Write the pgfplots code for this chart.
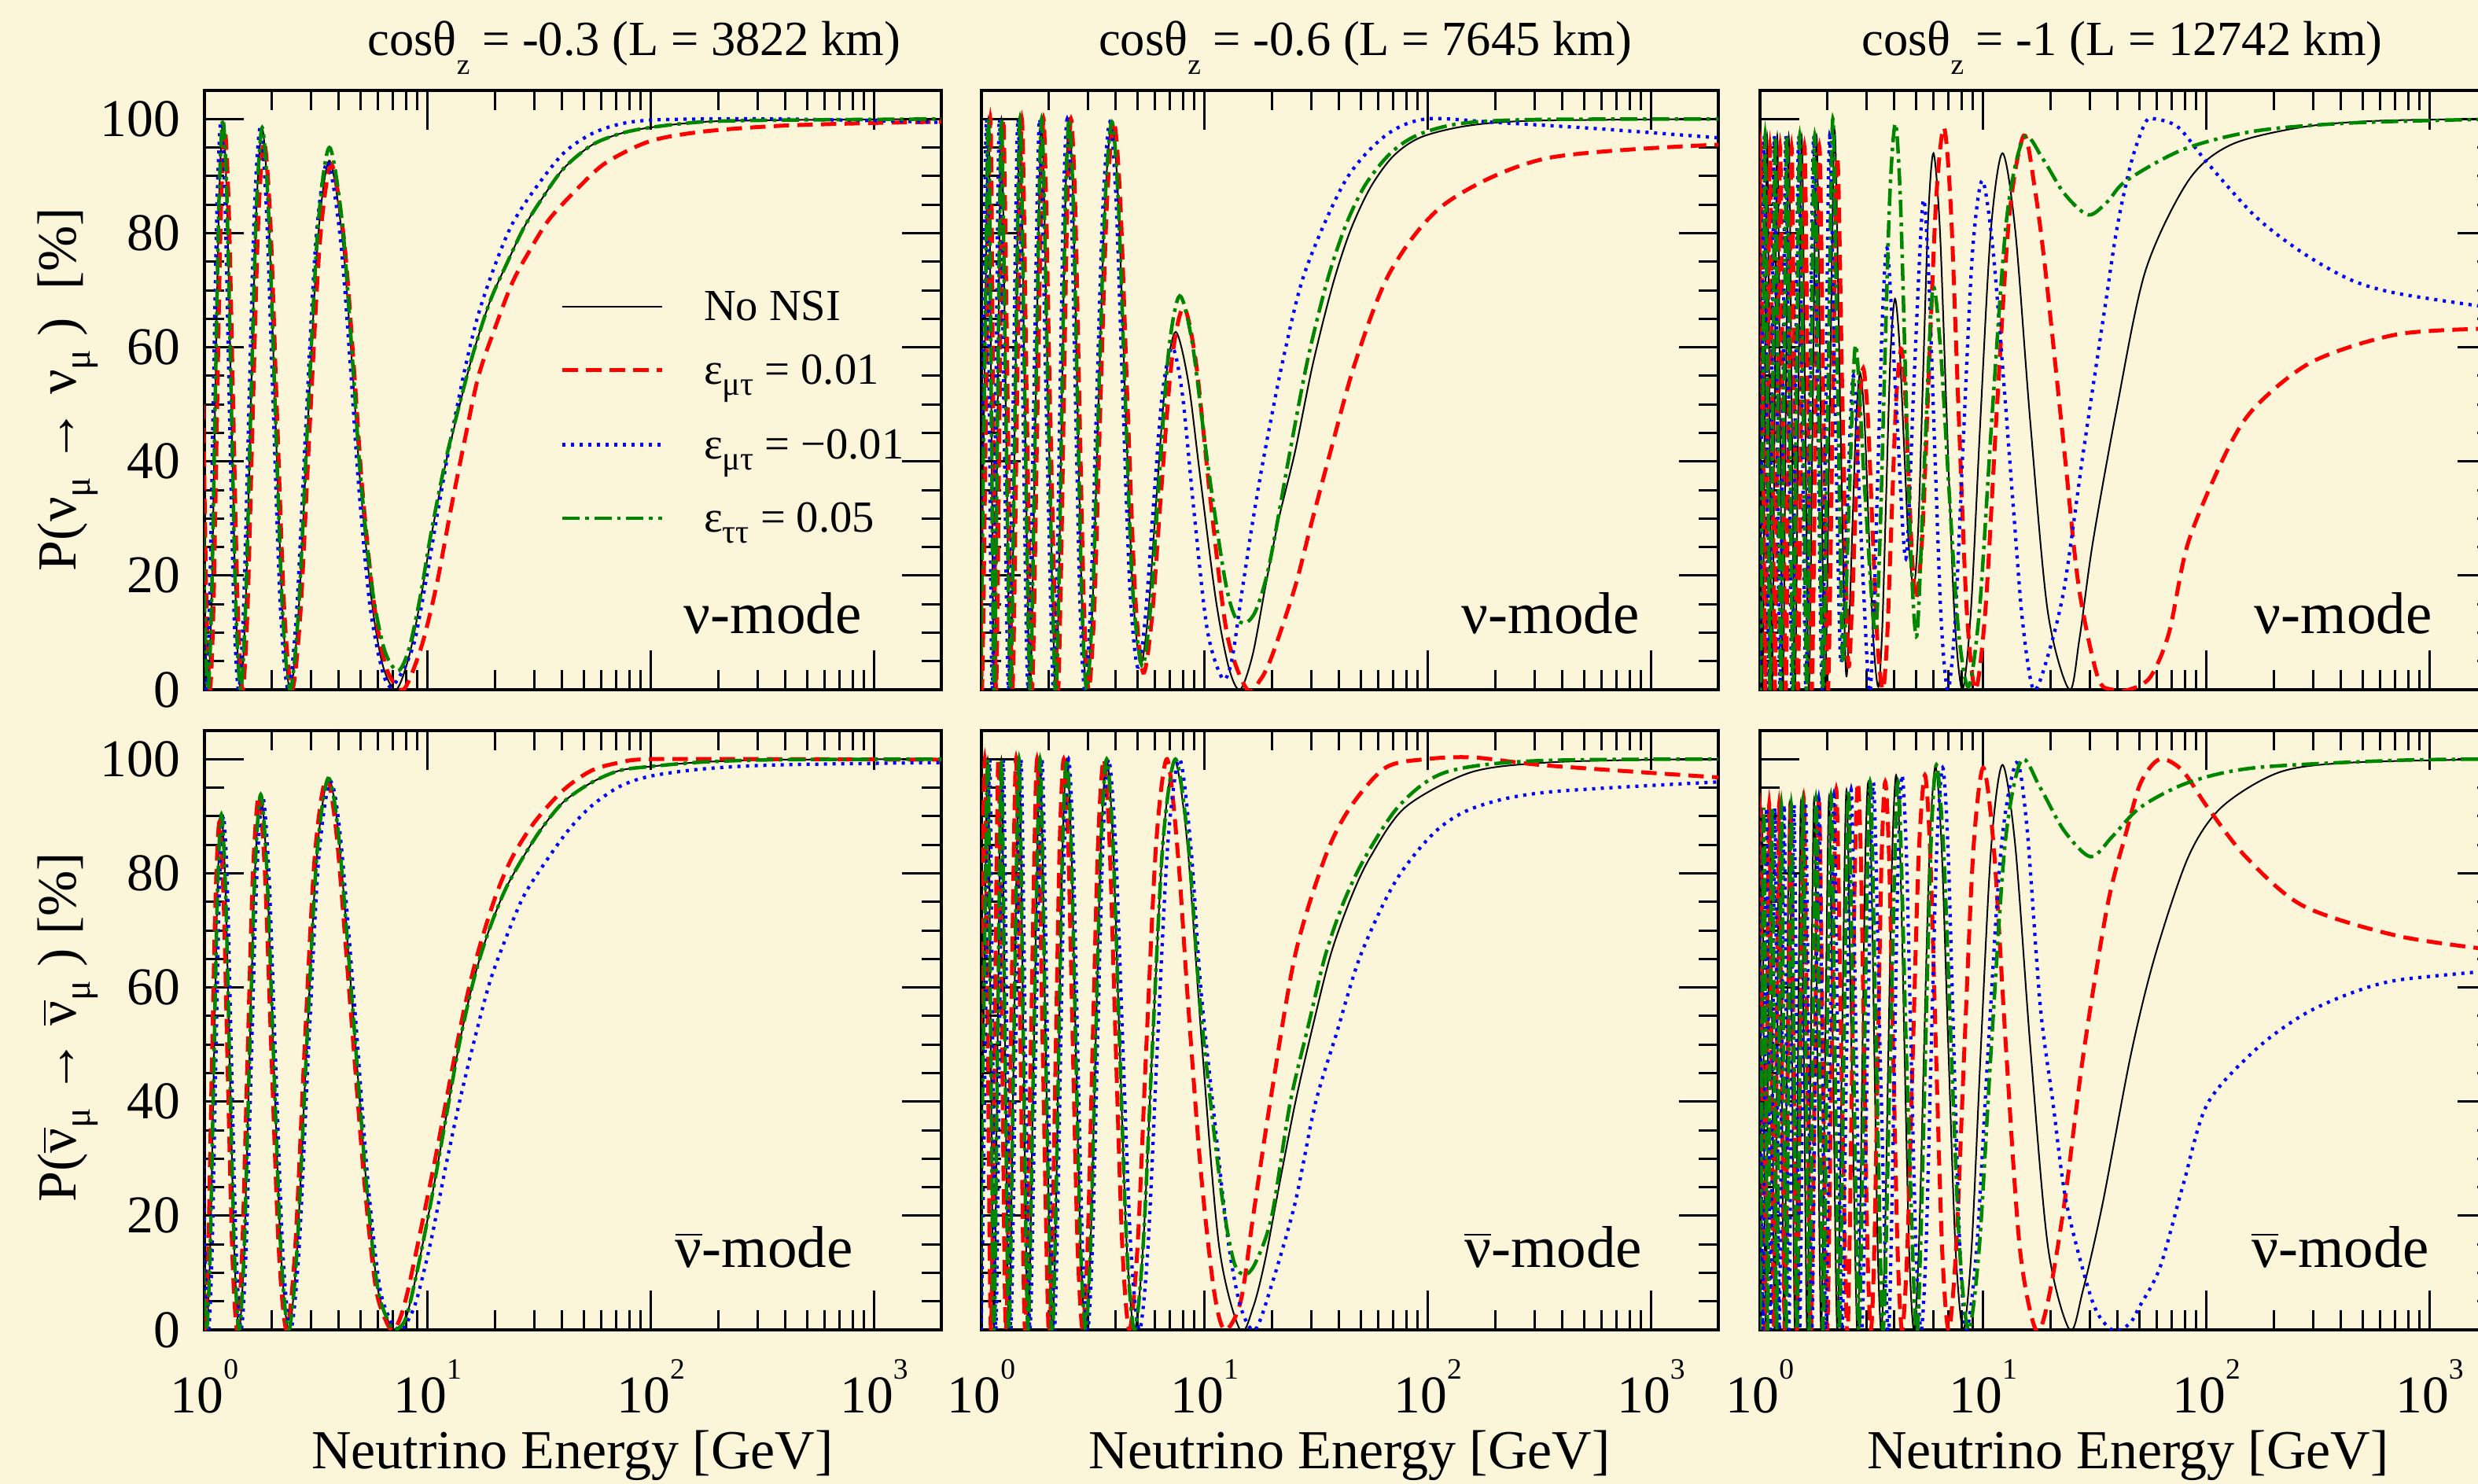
\documentclass[border=0pt]{standalone}
\usepackage{fontspec}
\setmainfont{Liberation Serif}
\usepackage{pgfplots}
\pgfplotsset{compat=1.18}

\definecolor{paper}{RGB}{251,245,218}
\definecolor{nsired}{RGB}{255,0,0}
\definecolor{nsiblue}{RGB}{0,0,255}
\definecolor{nsigreen}{RGB}{0,135,0}

% lowered subscripts, as in the original figure
\newcommand{\tsub}[1]{\raisebox{-5pt}{\fontsize{7.5}{8}\selectfont #1}}
\newcommand{\lsub}[1]{\raisebox{-2.8pt}{\fontsize{8.5}{9}\selectfont #1}}
\newcommand{\ysub}[1]{\raisebox{-3.6pt}{\fontsize{9.5}{10}\selectfont #1}}
\newcommand{\nub}{\ensuremath{\overline{\mbox{ν}}}}
\newcommand{\dec}[1]{10\raisebox{8.6pt}{\fontsize{7.5}{8}\selectfont #1}}

\tikzset{
  lnonsi/.style={black, line width=0.4pt},
  lmutp/.style={nsired, line width=1pt, dash pattern=on 3.9pt off 2.1pt},
  lmutm/.style={nsiblue, line width=0.85pt, dash pattern=on 0.8pt off 1.4pt},
  ltautau/.style={nsigreen, line width=0.9pt, dash pattern=on 4.4pt off 1.4pt on 0.9pt off 1.4pt},
}

\begin{document}
\begin{tikzpicture}
\fill[paper] (0pt,0pt) rectangle (630.2pt,-377.4pt);

% ---------------- top left: cos = -0.3, neutrinos
\begin{axis}[at={(52pt,-175.4pt)}, anchor=south west,
  scale only axis, width=187.4pt, height=152.4pt,
  xmode=log, xmin=1, xmax=2000, ymin=0, ymax=105,
  axis line style={line width=0.7pt}, tick style={black, line width=0.6pt},
  major tick length=10pt, minor tick length=5pt,
  xtick={1,10,100,1000},
  minor xtick={2,3,4,5,6,7,8,9,20,30,40,50,60,70,80,90,200,300,400,500,600,700,800,900},
  ytick={0,20,40,60,80,100},
  minor ytick={5,10,15,25,30,35,45,50,55,65,70,75,85,90,95},
  tick label style={font=\fontsize{13.5}{14}\selectfont},
  xticklabel style={inner sep=0pt, anchor=north, yshift=-7.4pt},
  yticklabel style={inner sep=0pt, anchor=east, xshift=-6pt},
  xticklabels={}, yticklabels={0,20,40,60,80,100}]
\addplot[lnonsi, smooth] coordinates {(0.968,50)(1.001,14.6)(1.037,0)(1.075,14.6)(1.1165,49.8)(1.161,84.9)(1.210,99.5)(1.262,84.9)(1.3195,49.8)(1.382,14.6)(1.4515,0)(1.528,14.4)(1.613,49.2)(1.708,83.9)(1.814,98.3)(1.935,83.9)(2.074,49.2)(2.233,14.4)(2.419,0)(2.639,13.6)(2.903,46.4)(3.226,79.1)(3.629,92.7)(4.147,79.1)(4.6,56.3)(5.0,35.7)(5.63,15.2)(6.3,4.2)(7.21,0)(8.22,5.6)(9.23,15.2)(10.36,26.8)(11.97,39.2)(13.84,49.5)(16.0,59)(19.0,68)(22.7,74.8)(27.0,81)(32.2,85.8)(40.6,91.3)(54.2,95.4)(72.4,97.4)(99,98.5)(172,99.5)(376,99.8)(2000,100)};
\addplot[lmutp, smooth] coordinates {(0.987,50)(1.021,14.6)(1.058,0)(1.097,14.3)(1.139,49)(1.184,83.5)(1.234,98)(1.287,83.5)(1.346,49)(1.410,14.2)(1.481,0)(1.559,14)(1.645,48)(1.742,82)(1.850,96)(1.974,82)(2.115,48)(2.278,14)(2.467,0)(2.692,13.5)(2.961,46)(3.291,78.5)(3.702,92)(4.230,78.5)(4.7,55)(5.1,35)(5.75,15)(6.5,4)(7.53,0)(8.22,1.5)(9.5,8.3)(11.0,18.6)(12.7,31.6)(14.7,44)(16.9,55)(20.2,63.8)(24.0,71.4)(28.6,76.9)(35.0,82.4)(46.9,87.8)(62.7,92.3)(98.9,96.1)(172,97.8)(376,98.8)(1000,99.3)(2000,99.5)};
\addplot[lmutm, smooth] coordinates {(0.948,50)(0.981,14.6)(1.016,0)(1.054,14.6)(1.094,49.8)(1.138,84.9)(1.185,99.5)(1.237,84.9)(1.293,49.8)(1.354,14.4)(1.422,0)(1.497,14.4)(1.581,49.2)(1.674,84)(1.778,98.5)(1.896,84)(2.033,49.2)(2.188,14.4)(2.371,0)(2.586,13.5)(2.845,46.2)(3.161,79)(3.556,92.5)(4.064,79)(4.5,57)(4.9,36)(5.5,15)(6.2,4)(6.8,0.5)(7.7,3.2)(8.71,8.3)(9.78,18.6)(11.0,30.3)(12.7,44)(14.7,56.3)(16.9,65.9)(20.2,74.8)(24.0,81.7)(30.3,87.8)(40.6,94)(54.2,97.4)(72.4,99.1)(99,99.8)(172,100)(376,100)(1000,99.7)(2000,99.4)};
\addplot[ltautau, smooth] coordinates {(0.968,50)(1.001,14.6)(1.037,0)(1.075,14.6)(1.1165,50)(1.161,85.4)(1.210,100)(1.262,85.4)(1.3195,50)(1.382,14.6)(1.4515,0)(1.528,14.4)(1.613,49.3)(1.708,84.1)(1.814,98.5)(1.935,84.1)(2.074,49.3)(2.233,14.4)(2.419,0)(2.639,13.9)(2.903,47.5)(3.226,81.1)(3.629,95)(4.147,81.6)(4.6,58)(5.0,37.5)(5.63,18)(6.4,7)(7.35,3.3)(8.22,7)(9.23,16)(10.36,27.5)(11.97,39.8)(13.84,49.8)(16.0,59)(19.0,68)(22.7,74.8)(27.0,81)(32.2,85.8)(40.6,91.3)(54.2,95.4)(72.4,97.4)(99,98.5)(172,99.5)(376,99.8)(2000,100)};
\end{axis}

% ---------------- top middle: cos = -0.6, neutrinos
\begin{axis}[at={(249.6pt,-175.4pt)}, anchor=south west,
  scale only axis, width=187.4pt, height=152.4pt,
  xmode=log, xmin=1, xmax=2000, ymin=0, ymax=105,
  axis line style={line width=0.7pt}, tick style={black, line width=0.6pt},
  major tick length=10pt, minor tick length=5pt,
  xtick={1,10,100,1000},
  minor xtick={2,3,4,5,6,7,8,9,20,30,40,50,60,70,80,90,200,300,400,500,600,700,800,900},
  ytick={0,20,40,60,80,100},
  minor ytick={5,10,15,25,30,35,45,50,55,65,70,75,85,90,95},
  xticklabels={}, yticklabels={}]
\addplot[lnonsi, smooth] coordinates {(0.945,100)(0.964,50)(0.985,0)(1.028,50)(1.075,100)(1.1066,50)(1.14,0)(1.1824,50)(1.228,100)(1.2857,50)(1.349,0)(1.4151,50)(1.488,100)(1.5653,50)(1.651,0)(1.7493,50)(1.86,100)(1.9895,50)(2.138,0)(2.2124,14.6)(2.292,50)(2.3776,85.4)(2.47,100)(2.5767,85.4)(2.694,50)(2.8224,14.6)(2.963,0)(3.1427,14.6)(3.345,50)(3.5753,85)(3.84,99.5)(4.101,85.6)(4.3995,52)(4.745,18.4)(5.15,4.5)(5.576,13)(6.079,33.6)(6.682,54.2)(7.42,62.7)(8.442,54)(9.5,38)(11.2,16)(12.8,4)(14.4,0)(16.4,6.1)(18.7,18)(21.5,30)(25.4,41.7)(30.5,57)(37.5,71)(45,80.5)(55.3,88)(70,93.5)(93,96.8)(150,98.8)(300,99.7)(2000,100)};
\addplot[lmutp, smooth] coordinates {(0.964,100)(0.983,50)(1.0047,0)(1.0486,50)(1.0965,100)(1.1287,50)(1.1628,0)(1.2060,50)(1.2526,100)(1.3114,50)(1.376,0)(1.4434,50)(1.5178,100)(1.5966,50)(1.684,0)(1.7843,50)(1.8972,100)(2.0293,50)(2.1808,0)(2.2566,14.6)(2.3378,50)(2.4252,85.4)(2.5194,100)(2.6282,85.4)(2.7479,50)(2.8788,14.6)(3.0223,0)(3.2056,14.6)(3.4119,50)(3.6468,85)(3.917,99.5)(4.19,85.5)(4.505,51)(4.871,17.4)(5.3,3)(5.795,12.3)(6.392,35)(7.125,57.7)(8.05,67)(9.151,57.2)(10.6,33.5)(12.59,9.8)(15.5,0)(17.8,1.8)(20.1,6.1)(25.4,18)(30,29)(36.6,41.7)(47.4,57.5)(68,73.3)(120,85.2)(339,93.1)(2000,95.5)};
\addplot[lmutm, smooth] coordinates {(0.926,100)(0.945,50)(0.9653,0)(1.0074,50)(1.0535,100)(1.0845,50)(1.1172,0)(1.1588,50)(1.2034,100)(1.26,50)(1.322,0)(1.3868,50)(1.4582,100)(1.534,50)(1.618,0)(1.7143,50)(1.8228,100)(1.9497,50)(2.0952,0)(2.1682,14.6)(2.2462,50)(2.33,85.4)(2.4206,100)(2.5252,85.4)(2.6401,50)(2.766,14.6)(2.9037,0)(3.0798,14.6)(3.2781,50)(3.5038,85)(3.7632,99.5)(4.011,85.6)(4.295,51.7)(4.621,18)(5.0,4)(5.408,12.2)(5.888,32)(6.46,51.8)(7.16,60)(7.962,51.5)(8.969,31)(10.27,10.5)(12.0,2)(13.2,5)(14.8,18)(16.5,30)(18.6,41.7)(22.5,58)(28.2,73.3)(42.7,89.2)(64.6,97.1)(98,100)(200,99.4)(575,98.3)(2000,96.7)};
\addplot[ltautau, smooth] coordinates {(0.945,100)(0.964,50)(0.985,0)(1.028,50)(1.075,100)(1.1066,50)(1.14,0)(1.1824,50)(1.228,100)(1.2857,50)(1.349,0)(1.4151,50)(1.488,100)(1.5653,50)(1.651,0)(1.7493,50)(1.86,100)(1.9895,50)(2.138,0)(2.2124,14.6)(2.292,50)(2.3776,85.4)(2.47,100)(2.5767,85.4)(2.694,50)(2.8224,14.6)(2.963,0)(3.1427,14.6)(3.345,50)(3.5753,85)(3.84,99.5)(4.101,85.6)(4.3995,52)(4.745,18.4)(5.24,4.2)(5.7,13.7)(6.246,36.6)(6.908,59.5)(7.73,69)(8.811,60.6)(10.25,40.4)(12.24,20)(13.6,13)(15.2,11.7)(17,14)(19.5,22)(24.1,41.7)(29,58)(35.6,72)(43,81.5)(52.5,88.5)(68,94)(90,97.2)(140,99.2)(300,99.9)(2000,100)};
\end{axis}

% ---------------- top right: cos = -1, neutrinos
\begin{axis}[at={(447.6pt,-175.4pt)}, anchor=south west,
  scale only axis, width=187.4pt, height=152.4pt,
  xmode=log, xmin=1, xmax=2000, ymin=0, ymax=105,
  axis line style={line width=0.7pt}, tick style={black, line width=0.6pt},
  major tick length=10pt, minor tick length=5pt,
  xtick={1,10,100,1000},
  minor xtick={2,3,4,5,6,7,8,9,20,30,40,50,60,70,80,90,200,300,400,500,600,700,800,900},
  ytick={0,20,40,60,80,100},
  minor ytick={5,10,15,25,30,35,45,50,55,65,70,75,85,90,95},
  xticklabels={}, yticklabels={}]
\addplot[lnonsi, smooth] coordinates {(0.9356,0)(0.9563,48.5)(0.978,97)(1.001,48.5)(1.025,0)(1.0499,48.5)(1.076,97)(1.1033,48.5)(1.132,0)(1.1627,48.5)(1.195,97)(1.2295,48.5)(1.266,0)(1.3043,48.5)(1.345,97)(1.388,48.5)(1.434,0)(1.4837,48.5)(1.537,97)(1.5939,48.5)(1.655,0)(1.7213,48.5)(1.793,97)(1.8711,48.5)(1.956,0)(2.053,49)(2.16,98)(2.2826,51)(2.42,4)(2.507,11.5)(2.6005,29.8)(2.701,48)(2.81,55.5)(2.9355,47.5)(3.0727,28)(3.2227,8.5)(3.39,0.5)(3.527,10.4)(3.678,34.5)(3.841,58.6)(4.02,68.5)(4.207,61.1)(4.412,43.3)(4.638,25.4)(4.89,18)(5.126,29.1)(5.385,56)(5.672,82.9)(5.99,94)(6.402,80.3)(6.873,47)(7.418,13.7)(8.06,0)(8.803,13.7)(9.704,47)(10.81,80.3)(12.2,94)(13.93,80.3)(16.24,47)(19.46,13.7)(24.3,0)(27,9)(31,25.9)(39.8,49.6)(53.3,73.4)(83,89.2)(129,95.5)(271,98.6)(600,99.7)(2000,100)};
\addplot[lmutp, smooth] coordinates {(0.943,47.5)(0.9637,0)(0.985,47.5)(1.0073,95)(1.031,47.5)(1.0558,0)(1.0814,47.5)(1.1083,95)(1.1364,47.5)(1.166,0)(1.1976,47.5)(1.2309,95)(1.2664,47.5)(1.304,0)(1.3434,47.5)(1.3854,95)(1.4296,47.5)(1.477,0)(1.5282,47.5)(1.5831,95)(1.6417,47.5)(1.7047,0)(1.7729,47.5)(1.8468,95)(1.9272,47.5)(2.0147,0)(2.1124,46.6)(2.22,93.3)(2.3427,49.5)(2.48,5.6)(2.573,13)(2.674,31)(2.782,48.9)(2.9,56.3)(3.039,48.1)(3.192,28.2)(3.361,8.2)(3.55,0)(3.709,8.7)(3.885,29.9)(4.077,51)(4.29,59.7)(4.452,53.3)(4.626,37.8)(4.815,22.3)(5.02,15.9)(5.351,28)(5.729,57.2)(6.164,86.4)(6.67,98.5)(7.168,84.1)(7.746,49.3)(8.424,14.4)(9.23,0)(10.24,14.2)(11.49,48.6)(13.08,82.9)(15.2,97.1)(17,88)(19,73.4)(23.1,41.7)(26.8,18)(32.6,2.2)(38,0)(45,0)(56,2.2)(68,10)(83,25.9)(123,41.7)(166,49.6)(299,57.5)(725,62.3)(2000,63.3)};
\addplot[lmutm, smooth] coordinates {(0.9075,0)(0.9276,48.5)(0.9487,97)(0.971,48.5)(0.9943,0)(1.0184,48.5)(1.0437,97)(1.0702,48.5)(1.098,0)(1.1278,48.5)(1.1592,97)(1.1926,48.5)(1.228,0)(1.2652,48.5)(1.3047,97)(1.3464,48.5)(1.391,0)(1.4392,48.5)(1.4909,97)(1.5461,48.5)(1.6054,0)(1.6697,48.5)(1.7392,97)(1.815,48.5)(1.8973,0)(1.9707,48.5)(2.05,97)(2.1678,51)(2.3,5)(2.4495,30)(2.62,55)(2.8313,27.5)(3.08,0)(3.221,11.2)(3.374,38.5)(3.542,65.8)(3.73,77)(4.079,50)(4.5,23)(4.897,54.2)(5.37,85.4)(5.693,72.9)(6.059,42.7)(6.475,12.5)(6.95,0)(7.508,13)(8.16,44.6)(8.937,76.2)(9.88,89.2)(11.0,78)(12.3,55)(13.7,31)(15,12)(16.8,0)(19.5,6)(23.1,18)(28.1,41.7)(35.1,67)(39.8,81)(46.1,92.5)(53.3,99.4)(59,100)(75,98.5)(101,92.3)(166,82.9)(271,76.5)(444,71.8)(725,69.4)(2000,66.8)};
\addplot[ltautau, smooth] coordinates {(0.9169,0)(0.9372,48.5)(0.9584,97)(0.981,48.5)(1.0045,0)(1.0289,48.5)(1.0545,97)(1.0812,48.5)(1.1094,0)(1.1394,48.5)(1.1711,97)(1.2049,48.5)(1.2407,0)(1.2782,48.5)(1.3181,97)(1.3602,48.5)(1.4053,0)(1.454,48.5)(1.5063,97)(1.562,48.5)(1.6219,0)(1.6869,48.5)(1.7571,97)(1.8337,48.5)(1.9169,0)(2.0133,50)(2.12,100)(2.2292,52.5)(2.35,4.9)(2.5044,32.6)(2.68,60.4)(2.942,35.4)(3.26,10.4)(3.426,23.4)(3.609,54.8)(3.812,86.2)(4.04,99.2)(4.253,86.1)(4.489,54.5)(4.753,22.8)(5.05,9.7)(5.455,39.9)(5.93,70)(6.43,59.9)(7.02,35.3)(7.729,10.7)(8.6,0.5)(9.645,14.5)(10.98,48.6)(12.75,82.7)(15.2,96.7)(18.5,93)(23,87)(29.5,83.2)(36,85.5)(43.8,89.2)(79.1,94.7)(166,97.9)(444,99.3)(2000,100)};
\end{axis}

% ---------------- bottom left: cos = -0.3, antineutrinos
\begin{axis}[at={(52pt,-338.2pt)}, anchor=south west,
  scale only axis, width=187.4pt, height=152.4pt,
  xmode=log, xmin=1, xmax=2000, ymin=0, ymax=105,
  axis line style={line width=0.7pt}, tick style={black, line width=0.6pt},
  major tick length=10pt, minor tick length=5pt,
  xtick={1,10,100,1000},
  minor xtick={2,3,4,5,6,7,8,9,20,30,40,50,60,70,80,90,200,300,400,500,600,700,800,900},
  ytick={0,20,40,60,80,100},
  minor ytick={5,10,15,25,30,35,45,50,55,65,70,75,85,90,95},
  tick label style={font=\fontsize{13.5}{14}\selectfont},
  xticklabel style={inner sep=0pt, anchor=north, yshift=-7.4pt},
  yticklabel style={inner sep=0pt, anchor=east, xshift=-6pt},
  xticklabels={\dec{0},\dec{1},\dec{2},\dec{3}}, yticklabels={0,20,40,60,80,100}]
\addplot[lnonsi, smooth] coordinates {(0.953,50)(0.986,13.2)(1.021,0)(1.059,13.2)(1.100,45)(1.144,77)(1.191,90.3)(1.243,77)(1.300,45)(1.362,13.2)(1.430,0)(1.505,13.7)(1.589,46.9)(1.682,80)(1.787,93.8)(1.906,80)(2.043,46.9)(2.200,13.7)(2.383,0)(2.599,14.1)(2.860,48.3)(3.178,82.5)(3.575,96.6)(3.98,87)(4.6,56.9)(5.3,26)(5.96,7.5)(6.7,1.3)(7.15,0)(7.98,2)(8.96,10.2)(10.36,22.6)(11.97,36.3)(13.84,50)(16.0,61)(18.5,69.2)(22.0,76.7)(26.2,82.2)(32.2,87.7)(40.6,92.5)(54.2,95.9)(72.4,98)(99,98.7)(172,99.5)(376,99.9)(2000,100)};
\addplot[lmutp, smooth] coordinates {(0.934,50)(0.966,13)(1.001,0)(1.038,13)(1.077,44.3)(1.121,75.6)(1.167,89)(1.218,75.6)(1.273,44.3)(1.334,13)(1.401,0)(1.475,13.7)(1.557,46.8)(1.648,79.8)(1.751,93.5)(1.867,79.8)(2.001,46.8)(2.155,13.7)(2.334,0)(2.547,14.1)(2.801,48.3)(3.113,82.5)(3.502,96.6)(3.9,87)(4.5,56.9)(5.2,26)(5.85,7.5)(6.55,1.3)(7.05,0)(7.6,2.5)(8.22,7.5)(9.5,19.2)(11,31.5)(12.7,44.5)(14.7,56.9)(16.9,66.5)(20.2,76.1)(24,82.9)(30.3,89.1)(40.6,94.6)(54.2,98)(72.4,99.4)(99,100)(376,100)(2000,99.9)};
\addplot[lmutm, smooth] coordinates {(0.973,50)(1.006,13.2)(1.042,0)(1.081,13.2)(1.122,45)(1.167,77)(1.216,90)(1.268,77)(1.326,45)(1.389,13.2)(1.459,0)(1.536,13.7)(1.621,46.8)(1.717,79.8)(1.823,93.5)(1.945,79.8)(2.084,46.8)(2.244,13.7)(2.431,0)(2.652,14)(2.918,48)(3.242,82)(3.647,96)(4.05,87)(4.7,56.9)(5.4,26)(6.1,7.5)(6.9,1.3)(7.6,0)(8.2,1.8)(8.96,5.5)(10.36,15.7)(11.97,28.1)(13.84,39.7)(16.0,50)(19.0,61)(22.7,69.2)(27.0,76.1)(34,82.2)(43,87.7)(54.2,91.8)(72.4,95.2)(99,97)(172,98.3)(376,99)(2000,99.4)};
\addplot[ltautau, smooth] coordinates {(0.953,50)(0.986,13.2)(1.021,0)(1.059,13.2)(1.100,45)(1.144,77)(1.191,90.3)(1.243,77)(1.300,45)(1.362,13.2)(1.430,0)(1.505,13.7)(1.589,46.9)(1.682,80)(1.787,93.8)(1.906,80)(2.043,46.9)(2.200,13.7)(2.383,0)(2.599,14.1)(2.860,48.3)(3.178,82.5)(3.575,96.6)(3.98,87)(4.6,56.9)(5.3,26)(5.96,7.5)(6.7,1.3)(7.15,0)(7.98,2)(8.96,10.2)(10.36,22.6)(11.97,36.3)(13.84,50)(16.0,61)(18.5,69.2)(22.0,76.7)(26.2,82.2)(32.2,87.7)(40.6,92.5)(54.2,95.9)(72.4,98)(99,98.7)(172,99.5)(376,99.9)(2000,100)};
\end{axis}

% ---------------- bottom middle: cos = -0.6, antineutrinos
\begin{axis}[at={(249.6pt,-338.2pt)}, anchor=south west,
  scale only axis, width=187.4pt, height=152.4pt,
  xmode=log, xmin=1, xmax=2000, ymin=0, ymax=105,
  axis line style={line width=0.7pt}, tick style={black, line width=0.6pt},
  major tick length=10pt, minor tick length=5pt,
  xtick={1,10,100,1000},
  minor xtick={2,3,4,5,6,7,8,9,20,30,40,50,60,70,80,90,200,300,400,500,600,700,800,900},
  ytick={0,20,40,60,80,100},
  minor ytick={5,10,15,25,30,35,45,50,55,65,70,75,85,90,95},
  tick label style={font=\fontsize{13.5}{14}\selectfont},
  xticklabel style={inner sep=0pt, anchor=north, yshift=-7.4pt},
  xticklabels={\dec{0},\dec{1},\dec{2},\dec{3}}, yticklabels={}]
\addplot[lnonsi, smooth] coordinates {(0.93,100)(0.952,50)(0.975,0)(1.019,50)(1.067,100)(1.1009,50)(1.137,0)(1.1808,50)(1.228,100)(1.2756,50)(1.327,0)(1.3962,50)(1.473,100)(1.5417,50)(1.617,0)(1.717,50)(1.83,100)(1.9383,50)(2.06,0)(2.1377,14.6)(2.2215,50)(2.3116,85.4)(2.41,100)(2.522,85.4)(2.6448,50)(2.78,14.6)(2.93,0)(3.0798,14.6)(3.2468,50)(3.4329,85.4)(3.64,100)(3.8827,85.4)(4.1589,50)(4.4773,14.6)(4.85,0)(5.298,14.6)(5.838,50)(6.5,85.3)(7.33,99.8)(8.358,85.2)(9.718,50)(11.61,14.6)(14.4,0)(16.5,4)(18.6,12)(21.5,25)(25.4,39.6)(30,52)(36.6,65.6)(45,75.5)(55.3,82.9)(79.4,91.6)(156,97.7)(339,99.4)(1000,99.9)(2000,100)};
\addplot[lmutp, smooth] coordinates {(0.902,100)(0.9234,50)(0.9458,0)(0.9884,50)(1.035,100)(1.0679,50)(1.1029,0)(1.1454,50)(1.1912,100)(1.2373,50)(1.2872,0)(1.3543,50)(1.4288,100)(1.4954,50)(1.5685,0)(1.6655,50)(1.7751,100)(1.8802,50)(1.9982,0)(2.0736,14.6)(2.1549,50)(2.2423,85.4)(2.3377,100)(2.4463,85.4)(2.5655,50)(2.6966,14.6)(2.8421,0)(2.9874,14.6)(3.1494,50)(3.3299,85.4)(3.531,100)(3.749,85.4)(3.995,50)(4.276,14.6)(4.6,0)(5.003,14.6)(5.484,50)(6.067,85.4)(6.79,100)(7.6,83)(8.4,58)(9.6,28)(11,7)(12.3,0)(14.5,5)(16.5,20)(19.6,39.6)(25.4,65.6)(34.7,82.9)(45,91.6)(64.6,98.5)(98,100)(160,100.3)(339,98.9)(2000,96.8)};
\addplot[lmutm, smooth] coordinates {(0.9486,100)(0.971,50)(0.9945,0)(1.0394,50)(1.0883,100)(1.1229,50)(1.1597,0)(1.2044,50)(1.2526,100)(1.3011,50)(1.3535,0)(1.4241,50)(1.5025,100)(1.5725,50)(1.6493,0)(1.7513,50)(1.8666,100)(1.9771,50)(2.1012,0)(2.1805,14.6)(2.2659,50)(2.3578,85.4)(2.4582,100)(2.5724,85.4)(2.6977,50)(2.8356,14.6)(2.9886,0)(3.1414,14.6)(3.3117,50)(3.5016,85.4)(3.7128,100)(3.984,85.4)(4.297,50)(4.664,14.6)(5.1,0)(5.573,14.6)(6.144,50)(6.847,85.4)(7.73,100)(8.7,84)(9.6,60)(11.2,35)(12.8,15)(14.5,4)(16.8,0)(20,8)(25.4,22.2)(31.3,39.6)(39,52)(49.9,65.6)(71.6,78.6)(108,87.3)(164,91.6)(339,94.2)(2000,96)};
\addplot[ltautau, smooth] coordinates {(0.93,100)(0.952,50)(0.975,0)(1.019,50)(1.067,100)(1.1009,50)(1.137,0)(1.1808,50)(1.228,100)(1.2756,50)(1.327,0)(1.3962,50)(1.473,100)(1.5417,50)(1.617,0)(1.717,50)(1.83,100)(1.9383,50)(2.06,0)(2.1377,14.6)(2.2215,50)(2.3116,85.4)(2.41,100)(2.522,85.4)(2.6448,50)(2.78,14.6)(2.93,0)(3.0798,14.6)(3.2468,50)(3.4329,85.4)(3.64,100)(3.8827,85.4)(4.1589,50)(4.4773,14.6)(4.85,0)(5.298,14.6)(5.838,50)(6.5,85.3)(7.4,100)(8.45,85)(9.6,56)(11.8,25)(13.5,12)(15.2,9.7)(17,12)(20,20)(24.1,39.6)(29,53)(34.7,65.6)(42,75)(52.5,82.9)(75,92)(120,97.7)(300,99.7)(2000,100)};
\end{axis}

% ---------------- bottom right: cos = -1, antineutrinos
\begin{axis}[at={(447.6pt,-338.2pt)}, anchor=south west,
  scale only axis, width=187.4pt, height=152.4pt,
  xmode=log, xmin=1, xmax=2000, ymin=0, ymax=105,
  axis line style={line width=0.7pt}, tick style={black, line width=0.6pt},
  major tick length=10pt, minor tick length=5pt,
  xtick={1,10,100,1000},
  minor xtick={2,3,4,5,6,7,8,9,20,30,40,50,60,70,80,90,200,300,400,500,600,700,800,900},
  ytick={0,20,40,60,80,100},
  minor ytick={5,10,15,25,30,35,45,50,55,65,70,75,85,90,95},
  tick label style={font=\fontsize{13.5}{14}\selectfont},
  xticklabel style={inner sep=0pt, anchor=north, yshift=-7.4pt},
  xticklabels={\dec{0},\dec{1},\dec{2},\dec{3}}, yticklabels={}]
\addplot[lnonsi, smooth] coordinates {(0.94,91.5)(0.96,45.8)(0.98,0)(0.9996,45.8)(1.02,91.5)(1.0396,45.8)(1.06,0)(1.0849,45.8)(1.111,91.5)(1.1359,46)(1.162,0)(1.1913,46)(1.222,92)(1.2518,46)(1.283,0)(1.3171,46)(1.353,92)(1.3923,46.2)(1.434,0)(1.4781,46.2)(1.525,92.5)(1.5739,46.5)(1.626,0)(1.6843,46.5)(1.747,93)(1.8106,46.5)(1.879,0)(1.9562,46.7)(2.04,93.5)(2.1261,46.7)(2.22,0)(2.3248,47.3)(2.44,94.6)(2.5727,47.3)(2.72,0)(2.7957,14)(2.8756,48)(2.9603,81.9)(3.05,95.9)(3.1496,81.9)(3.2552,48)(3.3681,14)(3.49,0)(3.619,14.2)(3.758,48.6)(3.908,83)(4.07,97.2)(4.248,83)(4.442,48.6)(4.655,14.2)(4.89,0)(5.147,14.4)(5.432,49.4)(5.75,84.3)(6.11,98.7)(6.515,84.3)(6.978,49.4)(7.513,14.4)(8.14,0)(8.873,14.5)(9.761,49.5)(10.85,84.5)(12.2,99)(13.94,84.5)(16.26,49.5)(19.51,14.5)(24.4,0)(28,7)(34.3,22.2)(45.9,48.3)(58.9,65.6)(83,82.9)(117,91.6)(212,97.7)(444,99.4)(2000,100)};
\addplot[lmutp, smooth] coordinates {(0.9356,45.8)(0.954,0)(0.9764,45.8)(0.9999,91.5)(1.0223,46)(1.0458,0)(1.0722,46)(1.0998,92)(1.1266,46)(1.1547,0)(1.1854,46)(1.2177,92)(1.2531,46.2)(1.2906,0)(1.3303,46.2)(1.3725,92.5)(1.4165,46.5)(1.4634,0)(1.5159,46.5)(1.5723,93)(1.6295,46.5)(1.6911,0)(1.7606,46.7)(1.836,93.5)(1.9135,46.7)(1.998,0)(2.0923,47.3)(2.196,94.6)(2.3154,47.3)(2.448,0)(2.5161,14)(2.588,48)(2.6643,81.9)(2.745,95.9)(2.834,81.9)(2.929,48)(3.03,14)(3.14,0)(3.251,14)(3.372,48)(3.501,82)(3.64,96)(3.792,82)(3.956,48)(4.134,14)(4.33,0)(4.57,14.2)(4.838,48.6)(5.139,83)(5.48,97.2)(5.794,83)(6.146,48.6)(6.545,14.2)(7.0,0)(7.564,14.4)(8.234,49.3)(9.033,84.1)(10,98.5)(11.17,84.1)(12.65,49.3)(14.58,14.4)(17.2,0)(19.5,5)(23.1,22.2)(28.1,48.3)(36,74.3)(43.8,87.3)(50.8,95.9)(61.8,100)(78,98)(101,91.6)(150,82.9)(271,74.3)(725,69)(2000,66.5)};
\addplot[lmutm, smooth] coordinates {(0.987,91.5)(1.007,45.8)(1.029,0)(1.0496,45.8)(1.071,91.5)(1.0916,45.8)(1.113,0)(1.1391,46)(1.1666,91.5)(1.1927,46)(1.2201,0)(1.2509,46)(1.2831,92)(1.3144,46)(1.3472,0)(1.383,46)(1.4207,92)(1.4619,46.2)(1.5057,0)(1.552,46.2)(1.6013,92.5)(1.6526,46.5)(1.7073,0)(1.7685,46.5)(1.8344,93)(1.9011,46.5)(1.973,0)(2.054,46.7)(2.142,93.5)(2.2324,46.7)(2.331,0)(2.441,47.3)(2.562,94.6)(2.7013,47.3)(2.856,0)(3.027,48)(3.22,95.9)(3.456,48)(3.73,0)(3.864,14.2)(4.008,48.6)(4.163,83)(4.33,97.2)(4.531,83)(4.754,48.6)(4.998,14.2)(5.27,0)(5.543,14.4)(5.851,49.3)(6.192,84.1)(6.58,98.5)(6.959,84.1)(7.383,49.3)(7.862,14.4)(8.41,0)(9.355,14.5)(10.54,49.7)(12.06,84.9)(14.1,99.4)(15.7,88)(18,56.9)(20.5,40)(23.6,22.2)(30.9,4.9)(37.8,0)(45,1)(50,4)(62,11)(79,25.7)(101,39.6)(166,49.1)(271,55.2)(444,59)(725,61.3)(2000,63)};
\addplot[ltautau, smooth] coordinates {(0.9588,91.5)(0.9792,45.8)(0.9996,0)(1.0196,45.8)(1.0404,91.5)(1.0604,45.8)(1.0812,0)(1.1066,45.8)(1.1332,91.5)(1.1586,46)(1.1852,0)(1.2151,46)(1.2464,92)(1.2768,46)(1.3087,0)(1.3434,46)(1.3801,92)(1.4201,46.2)(1.4627,0)(1.5077,46.2)(1.5555,92.5)(1.6054,46.5)(1.6585,0)(1.718,46.5)(1.7819,93)(1.8468,46.5)(1.9166,0)(1.9953,46.7)(2.0808,93.5)(2.1686,46.7)(2.2644,0)(2.3713,47.3)(2.4888,94.6)(2.6242,47.3)(2.7744,0)(2.9334,48)(3.111,96)(3.3206,48)(3.56,0)(3.833,48)(4.151,96)(4.531,48)(4.988,0)(5.238,14.5)(5.516,49.5)(5.824,84.5)(6.17,99)(6.636,84.5)(7.184,49.5)(7.831,14.5)(8.6,0)(9.606,14.6)(10.88,49.9)(12.53,85.2)(14.8,99.8)(18,95)(23,87.5)(30.3,82.9)(38,86.5)(50.8,91.6)(83,95.9)(166,98.5)(725,99.8)(2000,100)};
\end{axis}

% legend of the top left panel
\draw[lnonsi] (143pt,-78pt) -- (168.4pt,-78pt);
\draw[lmutp] (143pt,-94.1pt) -- (168.4pt,-94.1pt);
\draw[lmutm] (143pt,-113.1pt) -- (168.4pt,-113.1pt);
\draw[ltautau] (143pt,-131.8pt) -- (168.4pt,-131.8pt);
\begin{scope}[every node/.style={font=\fontsize{11.3}{12}\selectfont, anchor=base west, inner sep=0pt}]
\node at (178.8pt,-81.5pt) {No NSI};
\node at (178.8pt,-97.6pt) {ε\lsub{μτ} = 0.01};
\node at (178.8pt,-116.6pt) {ε\lsub{μτ} = −0.01};
\node at (178.8pt,-135.3pt) {ε\lsub{ττ} = 0.05};
\end{scope}

% titles
\begin{scope}[every node/.style={font=\fontsize{12.5}{13}\selectfont, anchor=base}]
\node at (161.3pt,-14pt) {cosθ\tsub{z} = -0.3 (L = 3822 km)};
\node at (347.2pt,-14pt) {cosθ\tsub{z} = -0.6 (L = 7645 km)};
\node at (539.7pt,-14pt) {cosθ\tsub{z} = -1 (L = 12742 km)};
\end{scope}
% axis labels
\begin{scope}[every node/.style={font=\fontsize{14}{14}\selectfont}]
\node[rotate=90, anchor=base] at (19.2pt,-99pt) {P(ν\ysub{μ} → ν\ysub{μ} )\ \ [\%]};
\node[rotate=90, anchor=base] at (19.2pt,-261.2pt) {P(\nub\ysub{μ} → \nub\ysub{μ} ) [\%]};
\node[anchor=base] at (145.6pt,-373.4pt) {Neutrino Energy [GeV]};
\node[anchor=base] at (343.2pt,-373.4pt) {Neutrino Energy [GeV]};
\node[anchor=base] at (541.2pt,-373.4pt) {Neutrino Energy [GeV]};
\end{scope}
\begin{scope}[every node/.style={font=\fontsize{15}{15}\selectfont, anchor=base east}]
\node at (222.6pt,-161pt) {ν-mode};
\node at (420.4pt,-161pt) {ν-mode};
\node at (622pt,-161pt) {ν-mode};
\node at (220.4pt,-322.2pt) {\nub-mode};
\node at (421.1pt,-322.2pt) {\nub-mode};
\node at (621.3pt,-322.2pt) {\nub-mode};
\end{scope}

\pgfresetboundingbox
\path[use as bounding box] (0pt,0pt) rectangle (630.2pt,-377.4pt);
\end{tikzpicture}
\end{document}
